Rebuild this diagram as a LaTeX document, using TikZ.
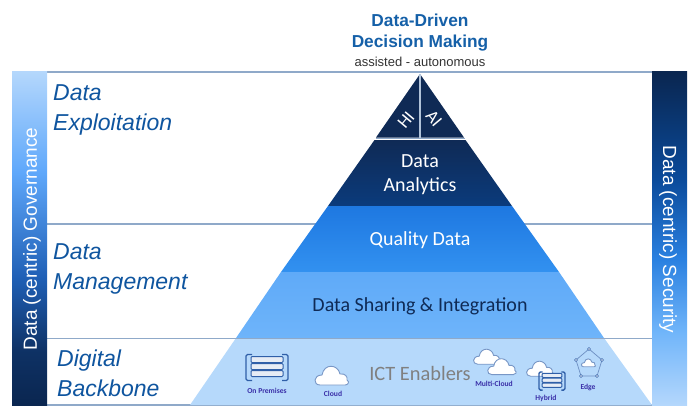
\documentclass[tikz,border=0pt]{standalone}
\usepackage{fontspec}
\setmainfont{Liberation Sans}
\newfontfamily\calfont{Carlito}
\definecolor{navy}{HTML}{0F2A55}
\definecolor{analyticsb}{HTML}{0B3B7C}
\definecolor{qualt}{HTML}{1E78E1}
\definecolor{qualb}{HTML}{3291F0}
\definecolor{sharet}{HTML}{5FAAF8}
\definecolor{shareb}{HTML}{6EB4FA}
\definecolor{ictfill}{HTML}{B6D9FB}
\definecolor{frameline}{HTML}{8FA9C9}
\definecolor{labelblue}{HTML}{0F559F}
\definecolor{titleblue}{HTML}{1560A8}
\definecolor{iconblue}{HTML}{2F5FA8}
\definecolor{iconink}{HTML}{3A2FA8}
\definecolor{c1}{HTML}{B4D7FC}
\definecolor{c2}{HTML}{5FA8FB}
\definecolor{c3}{HTML}{1F5FB5}
\definecolor{c4}{HTML}{0A2650}
\definecolor{c5}{HTML}{0A4A9A}
\definecolor{c6}{HTML}{2A80E0}
\definecolor{c7}{HTML}{70B5FA}
\pgfdeclareverticalshading{leftbar}{100bp}{color(0bp)=(c4); color(25bp)=(c4); color(33bp)=(c4!80!c3); color(44bp)=(c3); color(60bp)=(c2); color(75bp)=(c1); color(100bp)=(c1)}
\pgfdeclareverticalshading{rightbar}{100bp}{color(0bp)=(c1); color(25bp)=(c1); color(36bp)=(c7); color(47bp)=(c6); color(59bp)=(c5); color(75bp)=(c4); color(100bp)=(c4)}
\newcommand{\fs}[1]{\fontsize{#1}{#1}\selectfont}
\tikzset{
  frameln/.style={draw=frameline,line width=1.2pt},
  layerlabel/.style={font=\fs{23}\itshape,text=labelblue,align=left,anchor=base west,inner sep=0pt},
  pyrtext/.style={font=\calfont\fs{20},text=white,align=center,inner sep=0pt},
  sidetext/.style={font=\fs{19},text=white,inner sep=0pt},
  icontext/.style={font=\calfont\bfseries\fs{7.6},text=iconink,inner sep=0pt},
  cloudshape/.pic={
    \draw[draw=iconblue!65,fill=white,line width=0.9pt]
      (-13,9) .. controls (-20,9) and (-20,-1) .. (-11,-1)
      .. controls (-9,-13) and (5,-12) .. (7,-2)
      .. controls (12,-3) and (15,1) .. (14,4)
      .. controls (17,6) and (15,9) .. (12,9) -- cycle;
  },
  rackshape/.pic={
    \foreach \yy in {-8,-1,6}{
      \draw[draw=iconblue,fill=iconblue!12,line width=1pt,rounded corners=1pt] (-16,\yy-3) rectangle (16,\yy+3);
    }
    \draw[draw=iconblue,line width=1.3pt,rounded corners=1.5pt] (-15,-13) -- (-21,-13) -- (-21,13) -- (-15,13);
    \draw[draw=iconblue,line width=1.3pt,rounded corners=1.5pt] (15,-13) -- (21,-13) -- (21,13) -- (15,13);
  }
}
\begin{document}
\begin{tikzpicture}[x=1pt,y=-1pt]
\useasboundingbox (0,0) rectangle (700,409);
% frame
\coordinate (fl1) at (47,72); \coordinate (fr1) at (652,72);
\coordinate (fl2) at (47,224); \coordinate (fr2) at (652,224);
\coordinate (fl3) at (47,338.5); \coordinate (fr3) at (652,338.5);
\coordinate (fl4) at (47,405); \coordinate (fr4) at (652,405);
\draw[frameln] (fl1) -- (fr1);
\draw[frameln] (fl2) -- (fr2);
\draw[frameln] (fl4) -- (fr4);
% pyramid layers
\fill[navy] (420,74) -- (376,137.5) -- (464,137.5) -- cycle;
\shade[top color=navy,bottom color=analyticsb] (374.5,140) -- (465.5,140) -- (512,206) -- (328,206) -- cycle;
\shade[top color=qualt,bottom color=qualb] (328,206) -- (512,206) -- (559,272) -- (281,272) -- cycle;
\shade[top color=sharet,bottom color=shareb] (281,272) -- (559,272) -- (604,338) -- (236,338) -- cycle;
\fill[ictfill] (236,338) -- (604,338) -- (652,405) -- (190,405) -- cycle;
\draw[frameln] (fl3) -- (fr3);
\draw[draw=frameline!70!white,line width=1.2pt] (420,74) -- (420,138);
\draw[draw=frameline,line width=1pt] (375.5,138.7) -- (464.5,138.7);
% side bars
\shade[shading=leftbar] (12,72) rectangle (47,405);
\shade[shading=rightbar] (652,72) rectangle (687,405);
% side labels
\node[sidetext,rotate=90] (gov) at (32,239) {Data (centric) Governance};
\node[sidetext,rotate=-90] (sec) at (668,239.5) {Data (centric) Security};
% title
\node[font=\bfseries\fs{17.3},text=titleblue,inner sep=0pt] (t1) at (420,20.5) {Data-Driven};
\node[font=\bfseries\fs{17.3},text=titleblue,inner sep=0pt] (t2) at (420,43) {Decision Making};
\node[font=\fs{13},text=black!80,inner sep=0pt] (t3) at (420,61.5) {assisted - autonomous};
% layer labels
\node[layerlabel] (l1a) at (53,100) {Data};
\node[layerlabel] (l1b) at (53,130) {Exploitation};
\node[layerlabel] (l2a) at (53,259) {Data};
\node[layerlabel] (l2b) at (53,289) {Management};
\node[layerlabel] (l3a) at (57,366) {Digital};
\node[layerlabel] (l3b) at (57,396) {Backbone};
% pyramid text
\node[pyrtext,font=\calfont\fs{18},rotate=50] (hi) at (406,120) {HI};
\node[pyrtext,font=\calfont\fs{18},rotate=-50] (ai) at (434,119) {AI};
\node[pyrtext] (da1) at (420,161) {Data};
\node[pyrtext] (da2) at (420,186) {Analytics};
\node[pyrtext] (qd) at (420,240) {Quality Data};
\node[pyrtext,text=navy] (ds) at (420,306) {Data Sharing \& Integration};
\node[pyrtext,font=\calfont\fs{20.4},text=black!50] (ict) at (420,373) {ICT Enablers};
% icons
\pic at (267,367.5) {rackshape};
\node[icontext] (i1) at (267,391) {On Premises};
\pic at (333,376) {cloudshape};
\node[icontext] (i2) at (333,394) {Cloud};
\pic[scale=0.8] at (488,357) {cloudshape};
\pic[scale=0.85] at (503,367) {cloudshape};
\node[icontext] (i3) at (494,384) {Multi-Cloud};
\pic[scale=0.8] at (541,369) {cloudshape};
\pic[xscale=0.62,yscale=0.7] at (552,381) {rackshape};
\node[icontext] (i4) at (546,398) {Hybrid};
% edge icon
\coordinate (e1) at (589,349);
\coordinate (e2) at (602,360);
\coordinate (e3) at (597,376);
\coordinate (e4) at (581,376);
\coordinate (e5) at (576,360);
\draw[draw=iconblue!70,line width=0.7pt] (e1) -- (e2) -- (e3) -- (e4) -- (e5) -- cycle;
\foreach \p in {e1,e2,e3,e4,e5}{\draw[iconblue,fill=white,line width=0.5pt] (\p) circle (1.5);}
\pic[scale=0.42] at (589,363) {cloudshape};
\node[icontext] (i5) at (588,387) {Edge};
\end{tikzpicture}
\end{document}
